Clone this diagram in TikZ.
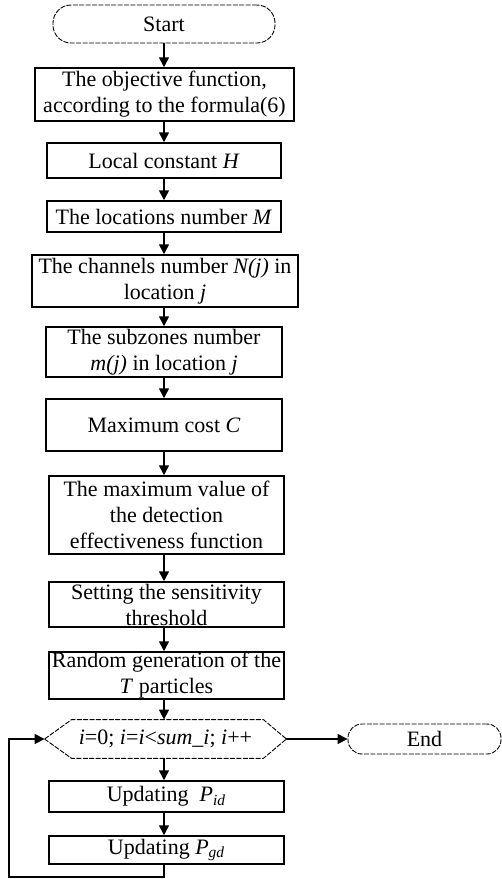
\documentclass[tikz,border=0pt]{standalone}
\usepackage{fontspec}
\setmainfont{Liberation Serif}
\usetikzlibrary{arrows.meta,calc}
\begin{document}
\begin{tikzpicture}[x=0.5pt,y=-0.5pt,
  txt/.style={font=\fontsize{11}{13}\selectfont},
  box/.style={txt, draw, line width=0.75pt, align=center, inner sep=0pt},
  term/.style={txt, draw, line width=0.45pt, dash pattern=on 2.5pt off 0.7pt, align=center, inner sep=0pt},
  arr/.style={line width=0.75pt, -{Triangle[length=5pt,width=5pt]}}]
\useasboundingbox (0,0) rectangle (502,879);

\node[term, rounded corners=9pt, minimum width=111pt, minimum height=19pt] (start) at (164,24) {Start};
\node[box, minimum width=129.5pt, minimum height=26.5pt] (b1) at (164.5,94.5) {The objective function,\\according to the formula(6)};
\node[box, minimum width=117pt, minimum height=17.5pt] (b2) at (164,160.5) {Local constant \textit{H}};
\node[box, minimum width=117pt, minimum height=15.5pt] (b3) at (164,216.5) {The locations number \textit{M}};
\node[box, minimum width=133pt, minimum height=26pt] (b4) at (165,281) {The channels number \textit{N(j)} in\\location \textit{j}};
\node[box, minimum width=118pt, minimum height=25pt] (b5) at (164,352) {The subzones number\\\textit{m(j)} in location \textit{j}};
\node[box, minimum width=118pt, minimum height=26pt] (b6) at (164,425) {Maximum cost \textit{C}};
\node[box, minimum width=117.5pt, minimum height=39pt] (b7) at (166.5,515) {The maximum value of\\the detection\\effectiveness function};
\node[box, minimum width=117.5pt, minimum height=22.5pt] (b8) at (166.5,604.5) {Setting the sensitivity\\threshold};
\node[box, minimum width=117.5pt, minimum height=23.5pt] (b9) at (166.5,675.5) {Random generation of the\\\textit{T} particles};
\node[txt, minimum width=120.5pt, minimum height=19pt, inner sep=0pt] (hex) at (165.5,739) {\textit{i}=0; \textit{i}=\textit{i}<\textit{sum\_i}; \textit{i}++};
\draw[line width=0.45pt, dash pattern=on 2.5pt off 0.7pt]
  (hex.west) -- ($(hex.north west)+(27,0)$) -- ($(hex.north east)+(-23,0)$) -- (hex.east)
  -- ($(hex.south east)+(-23,0)$) -- ($(hex.south west)+(27,0)$) -- cycle;
\node[term, rounded corners=7pt, minimum width=76.5pt, minimum height=15pt] (end) at (424.5,739) {End};
\node[box, minimum width=117.5pt, minimum height=15.5pt] (b10) at (166.5,796.5) {Updating\ \ \textit{P}\textsubscript{\textit{id}}};
\node[box, minimum width=117.5pt, minimum height=14pt] (b11) at (166.5,850) {Updating \textit{P}\textsubscript{\textit{gd}}};

\draw[arr] (start.south) -- (start.south |- b1.north);
\draw[arr] (start.south |- b1.south) -- (start.south |- b2.north);
\draw[arr] (start.south |- b2.south) -- (start.south |- b3.north);
\draw[arr] (start.south |- b3.south) -- (start.south |- b4.north);
\draw[arr] (start.south |- b4.south) -- (start.south |- b5.north);
\draw[arr] (start.south |- b5.south) -- (start.south |- b6.north);
\draw[arr] (start.south |- b6.south) -- (start.south |- b7.north);
\draw[arr] (start.south |- b7.south) -- (start.south |- b8.north);
\draw[arr] (start.south |- b8.south) -- (start.south |- b9.north);
\draw[arr] (start.south |- b9.south) -- (start.south |- hex.north);
\draw[arr] (start.south |- hex.south) -- (start.south |- b10.north);
\draw[arr] (start.south |- b10.south) -- (start.south |- b11.north);
\draw[arr] (hex.east) -- (end.west);
\coordinate (lp) at (9,877);
\draw[arr] (start.south |- b11.south) |- (lp) |- (hex.west);
\end{tikzpicture}
\end{document}
